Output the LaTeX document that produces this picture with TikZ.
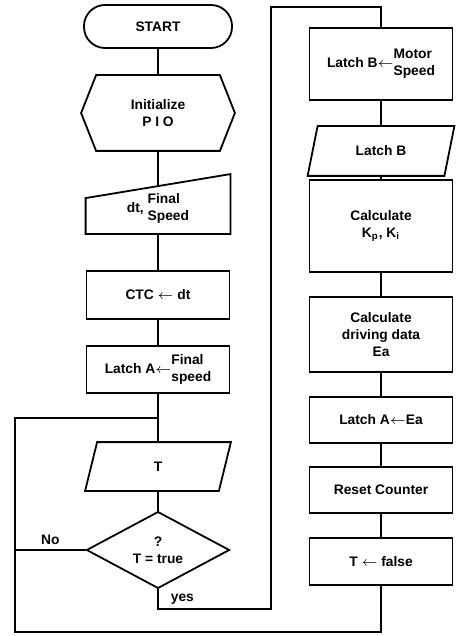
\documentclass[tikz,border=0pt]{standalone}
\usepackage{fontspec}
\setmainfont{Liberation Sans}
\usetikzlibrary{shapes.geometric}

\newcommand{\twoline}[2]{\begin{tabular}{@{}l@{}}#1\\#2\end{tabular}}

\tikzset{
  lbl/.style={font=\fontsize{6.9}{8.4}\selectfont\bfseries, inner sep=2pt},
  blk/.style={lbl, minimum width=71.5pt, inner sep=1pt, align=center},
  box/.style={blk, draw},
}

\begin{document}
\begin{tikzpicture}[x=0.5pt, y=-0.5pt, line width=0.9pt]
   		\useasboundingbox (0,0) rectangle (456,636);
   		
   		\coordinate (loopL) at (15,418);
   		\coordinate (botL) at (15,632);
   		\coordinate (yesR) at (271,609);
   		\coordinate (topR) at (271,7);
   		
   		\node[box, rounded corners=10.5pt, minimum width=74pt, minimum height=21.5pt] (start) at (158,26.5) {START};
   		\node[blk, minimum width=76pt, minimum height=37pt] (init) at (158,113) {Initialize\\P I O};
   		\node[blk, minimum height=24pt] (dt) at (158,209) {dt,~\twoline{Final}{Speed}};
   		\node[box, minimum height=24pt] (ctc) at (158,295) {CTC $\leftarrow$ dt};
   		\node[box, minimum height=23.5pt] (latchA) at (158,369.5) {Latch A$\leftarrow$\twoline{Final}{speed}};
   		\node[blk, minimum width=72pt, minimum height=23.5pt] (T) at (158,466.5) {T};
   		\node[lbl, draw, diamond, inner sep=0pt, minimum width=71.5pt, minimum height=35.5pt, align=center] (decide) at (158,550) {?\\T = true};
   		
   		\node[box, minimum height=36pt] (latchB) at (381,64) {Latch B$\leftarrow$\twoline{Motor}{Speed}};
   		\node[blk, minimum width=72.5pt, minimum height=24pt] (readB) at (381,151) {Latch B};
   		\node[box, minimum height=46pt] (calcK) at (381,226) {Calculate\\K\textsubscript{p}, K\textsubscript{i}};
   		\node[box, minimum height=37.5pt] (calcE) at (381,334.5) {Calculate\\driving data\\Ea};
   		\node[box, minimum height=23pt] (latchAE) at (381,420) {Latch A$\leftarrow$Ea};
   		\node[box, minimum height=23pt] (reset) at (381,490) {Reset Counter};
   		\node[box, minimum height=23.5pt] (tfalse) at (381,561.5) {T $\leftarrow$ false};
   		
   		\draw (init.west) -- ([xshift=7.5pt]init.north west) -- ([xshift=-7.5pt]init.north east) -- (init.east)
   		  -- ([xshift=-7.5pt]init.south east) -- ([xshift=7.5pt]init.south west) -- cycle;
   		\draw (dt.south west) -- (dt.south east) -- ([yshift=5pt]dt.north east) -- ([yshift=-7pt]dt.north west) -- cycle;
   		\draw ([xshift=6pt]T.north west) -- (T.north east) -- ([xshift=-6pt]T.south east) -- (T.south west) -- cycle;
   		\draw ([xshift=5pt]readB.north west) -- (readB.north east) -- ([xshift=-5pt]readB.south east) -- (readB.south west) -- cycle;
   		
   		\draw (init.south) -- ([yshift=-1pt]dt.north);
   		\foreach \a/\b in {
   			start/init, dt/ctc, ctc/latchA, latchA/T, T/decide,
   			latchB/readB, readB/calcK, calcK/calcE, calcE/latchAE, latchAE/reset, reset/tfalse}{
   			\draw (\a.south) -- (\b.north);
   		}
   		
   		\draw (decide.west) -- node[lbl, above] {No} (decide.west -| loopL);
   		\draw (decide.south) -- node[lbl, right, xshift=4pt] {yes} (decide.south |- yesR) -- (yesR) -- (topR) -| (latchB.north);
   		\draw (tfalse.south) |- (botL) -- (loopL) -- (loopL -| latchA.south);
   	\end{tikzpicture}
\end{document}
